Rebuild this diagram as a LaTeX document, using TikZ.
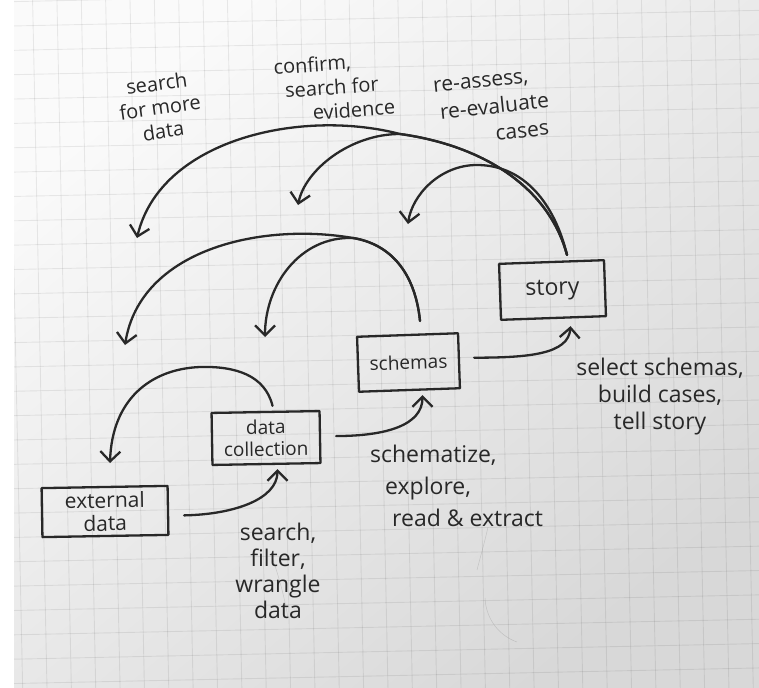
\documentclass[tikz,border=0pt]{standalone}
\usepackage{fontspec}
\setmainfont{Open Sans}
\usetikzlibrary{arrows.meta}
\definecolor{inkc}{RGB}{40,40,40}
\definecolor{paperhi}{RGB}{250,250,250}
\definecolor{paperlo}{RGB}{216,216,216}
\begin{document}
\begin{tikzpicture}[x=1pt,y=-1pt,
  pen/.style={draw=inkc,line width=2.3pt,line cap=round,line join=round},
  arr/.style={pen,-{Straight Barb[length=10pt,width=20pt]}},
  box/.style={pen,rectangle,inner sep=0pt,align=center,text=inkc},
  note/.style={text=inkc,inner sep=0pt},
  gridln/.style={draw=black,opacity=0.075,line width=0.9pt},
  crease/.style={draw=black,opacity=0.12,line width=0.5pt}]
\useasboundingbox (0,0) rectangle (759,687);

% sheet of squared paper
\fill[white] (0,0) rectangle (759,687);
\shade[top color=paperhi,bottom color=paperlo,shading angle=40] (14,0) rectangle (759,687);
\begin{scope}
  \clip (14,0) rectangle (759,687);
  \begin{scope}[rotate around={1.2:(0,562)}]
    \foreach \i in {-3,...,33}
      \draw[gridln] ({20+\i*24.35},-40) -- ({20+\i*24.35},740);
    \foreach \j in {-3,...,31}
      \draw[gridln] (-40,{2+\j*24.35}) -- (800,{2+\j*24.35});
  \end{scope}
  % faint hairlines on the sheet
  \draw[crease] (273,560) .. controls (280,580) and (285,600) .. (288,618);
  \draw[crease] (488,527) .. controls (484,545) and (480,558) .. (477,570);
  \draw[crease] (485,598) .. controls (486,620) and (500,636) .. (517,642);
\end{scope}

% stages
\node[box,minimum width=126pt,minimum height=49pt,rotate=1,font=\fontsize{21}{23}\selectfont] (ext) at (105,511.5) {external\\data};
\node[box,minimum width=108pt,minimum height=52pt,rotate=1,font=\fontsize{19}{22}\selectfont] (coll) at (266,438) {data\\collection};
\node[box,minimum width=101pt,minimum height=55pt,rotate=2,font=\fontsize{19}{22}\selectfont] (sch) at (408.5,362.5) {schemas};
\node[box,minimum width=105pt,minimum height=56pt,rotate=2,font=\fontsize{23}{26}\selectfont] (story) at (552.5,290) {story};

% forward steps
\draw[arr] ([shift={(15,5)}]ext.east) .. controls +(50,-1) and +(0,30) .. ([shift={(11,4)}]coll.south);
\draw[arr] ([shift={(15,-1)}]coll.east) .. controls +(50,0) and +(0,30) .. ([shift={(13,4)}]sch.south);
\draw[arr] ([shift={(14,-3)}]sch.east) .. controls +(55,0) and +(-2,28) .. ([shift={(17,7)}]story.south);

% loop-back ends
\coordinate (backA) at (408,224);
\coordinate (backB) at (298,205);
\coordinate (backC) at (137,238);
\coordinate (backD) at (265,337);
\coordinate (backE) at (125,345);
\coordinate (backF) at (110,463);

% loops from story
\draw[arr] ([shift={(15.5,-6)}]story.north) .. controls (555,205) and (525,165) .. (477,165)
  .. controls (440,165) and (412,195) .. (backA);
\draw[arr] ([shift={(15.5,-6)}]story.north) .. controls (548,185) and (480,145) .. (400,134)
  .. controls (350,134) and (305,170) .. (backB);
\draw[arr] ([shift={(15.5,-6)}]story.north) .. controls (548,185) and (480,145) .. (400,134)
  .. controls (300,108) and (160,140) .. (backC);

% loops from schemas
\draw[arr] ([shift={(12.5,-13)}]sch.north) .. controls (415,272) and (390,244) .. (353,238)
  .. controls (300,236) and (265,285) .. (backD);
\draw[arr] ([shift={(12.5,-13)}]sch.north) .. controls (415,272) and (390,244) .. (353,238)
  .. controls (260,222) and (140,250) .. (backE);

% loop from data collection
\draw[arr] ([shift={(7,-5)}]coll.north) .. controls (265,375) and (235,366) .. (200,367)
  .. controls (150,369) and (112,400) .. (backF);

% annotations
\node[note,align=center,rotate=8,font=\fontsize{20}{24}\selectfont] (tA) at (160,107)
  {search\\for more\\data};
\node[note,align=left,anchor=west,rotate=4,font=\fontsize{20}{24}\selectfont] (tB) at (275,91)
  {confirm,\\\hspace*{10pt}search for\\\hspace*{36pt}evidence};
\node[note,align=left,anchor=west,rotate=6,font=\fontsize{21}{27}\selectfont] (tC) at (436,114)
  {re-assess,\\\hspace*{4pt}re-evaluate\\\hspace*{57pt}cases};
\node[note,align=center,font=\fontsize{23}{26}\selectfont] (tD) at (278,571)
  {search,\\filter,\\wrangle\\data};
\node[note,align=left,anchor=west,font=\fontsize{23}{32}\selectfont] (tE) at (370,486)
  {schematize,\\\hspace*{15pt}explore,\\\hspace*{22pt}read \& extract};
\node[note,align=center,font=\fontsize{23}{27}\selectfont] (tF) at (660,397)
  {select schemas,\\build cases,\\tell story};
\end{tikzpicture}
\end{document}
